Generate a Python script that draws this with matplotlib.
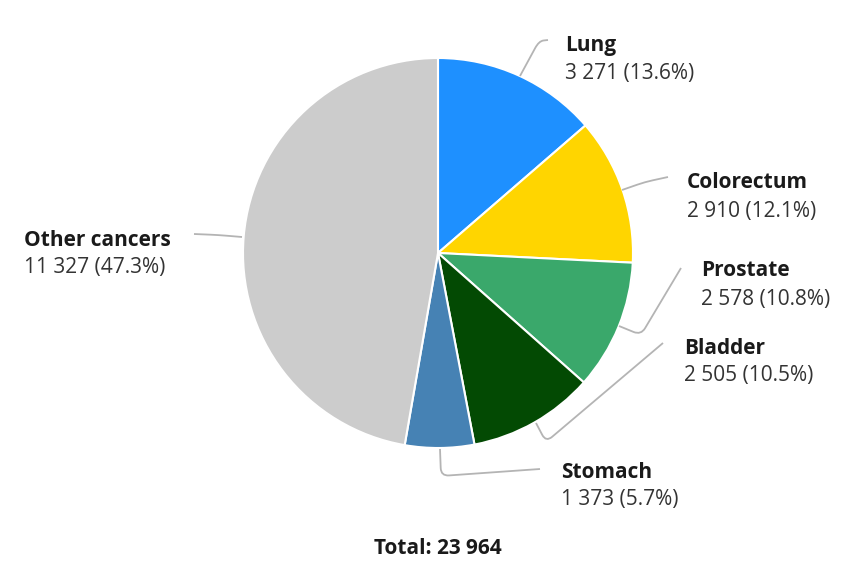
import numpy as np
import matplotlib.pyplot as plt
from matplotlib.path import Path
from matplotlib.patches import PathPatch

plt.rcParams['font.family'] = ['Open Sans', 'DejaVu Sans']

# number of cases by site
sites = ['Lung', 'Colorectum', 'Prostate', 'Bladder', 'Stomach', 'Other cancers']
cases = [3271, 2910, 2578, 2505, 1373, 11327]
colors = ['#1e90ff', '#ffd500', '#3aa86b', '#034a03', '#4682b4', '#cccccc']

# label anchor (left x, y of name line) in pixels
label_pos = [(565, 45), (687, 183), (701, 271), (684, 348), (561, 472), (24, 240)]
# leader lines: start, corner, end
leaders = [
    [(520, 76), (539, 41), (548, 40)],
    [(622, 190), (645, 182), (668, 177)],
    [(619, 326), (641, 335), (681, 268)],
    [(536, 423), (546, 442), (663, 343)],
    [(440, 449), (441, 476), (540, 469)],
    [(242, 237), (218, 235), (194, 234)],
]

total = sum(cases)


def rounded_leader(p0, c, p2, r=8):
    p0, c, p2 = map(np.asarray, (p0, c, p2))
    a = c + (p0 - c) * min(r / np.linalg.norm(p0 - c), 0.5)
    b = c + (p2 - c) * min(r / np.linalg.norm(p2 - c), 0.5)
    verts = [p0, a, c, b, p2]
    codes = [Path.MOVETO, Path.LINETO, Path.CURVE3, Path.CURVE3, Path.LINETO]
    return Path(verts, codes)


fig = plt.figure(figsize=(8.62, 5.62), dpi=100)
ax = fig.add_axes([0, 0, 1, 1])

ax.pie(cases, colors=colors, startangle=-90, counterclock=True,
       center=(438, 253), radius=195,
       wedgeprops=dict(edgecolor='white', linewidth=1.5))

for pts in leaders:
    ax.add_patch(PathPatch(rounded_leader(*pts), fill=False,
                           edgecolor='#b4b4b4', lw=1.3))

for name, n, (x, y) in zip(sites, cases, label_pos):
    pct = n / total * 100
    num = f'{n:,}'.replace(',', ' ')
    ax.text(x, y, name, fontsize=15, fontweight='bold', color='#1a1a1a',
            ha='left', va='center')
    ax.text(x, y + 28, f'{num} ({pct:.1f}%)', fontsize=15, color='#333333',
            ha='left', va='center')

ax.text(438, 548, 'Total: ' + f'{total:,}'.replace(',', ' '), fontsize=15,
        fontweight='bold', color='#1a1a1a', ha='center', va='center')

ax.set_xlim(0, 862)
ax.set_ylim(562, 0)
ax.set_aspect('equal')
ax.axis('off')

fig.savefig('out.png', dpi=100, facecolor='white')
